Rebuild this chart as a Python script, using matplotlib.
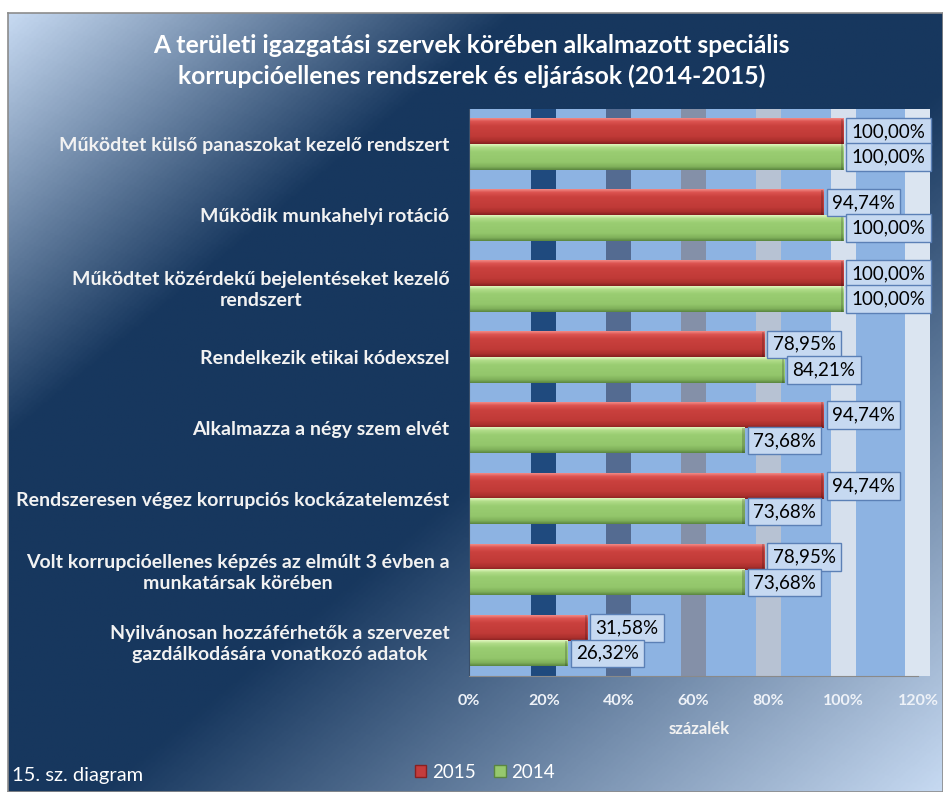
import numpy as np
import matplotlib
matplotlib.use('Agg')
import matplotlib.pyplot as plt
from matplotlib.colors import LinearSegmentedColormap
from matplotlib.patches import Patch, Rectangle

plt.rcParams['font.family'] = ['Lato', 'DejaVu Sans']

# data
categories = [
    'Működtet külső panaszokat kezelő rendszert',
    'Működik munkahelyi rotáció',
    'Működtet közérdekű bejelentéseket kezelő\nrendszert',
    'Rendelkezik etikai kódexszel',
    'Alkalmazza a négy szem elvét',
    'Rendszeresen végez korrupciós kockázatelemzést',
    'Volt korrupcióellenes képzés az elmúlt 3 évben a\nmunkatársak körében',
    'Nyilvánosan hozzáférhetők a szervezet\ngazdálkodására vonatkozó adatok',
]
vals_2015 = [100.00, 94.74, 100.00, 78.95, 94.74, 94.74, 78.95, 31.58]
vals_2014 = [100.00, 100.00, 100.00, 84.21, 73.68, 73.68, 73.68, 26.32]
xticks = [0, 20, 40, 60, 80, 100, 120]
tick_labels = ['0%', '20%', '40%', '60%', '80%', '100%', '120%']
band_colors = ['#1f4a7e', '#546b91', '#8490a8', '#b7c2d3', '#d6e0ed', '#dbe5f1']

W, H = 943, 792
fig = plt.figure(figsize=(W / 100, H / 100), dpi=100)
fig.patch.set_facecolor('white')

# background gradient (diagonal, light -> navy -> light)
bg = fig.add_axes([8 / W, 0, 1 - 8 / W, 1 - 13 / H], zorder=0)
gx, gy = np.meshgrid(np.linspace(0, 1, 400), np.linspace(0, 1, 340))
t = (gx + gy) / 2
bg_cmap = LinearSegmentedColormap.from_list(
    'bg', [(0, '#c6d9f1'), (0.27, '#17375e'), (0.55, '#17375e'), (1, '#c6d9f1')])
bg.imshow(t, cmap=bg_cmap, aspect='auto', extent=[0, 1, 1, 0], vmin=0, vmax=1)
bg.set_xlim(0, 1)
bg.set_ylim(1, 0)
bg.set_xticks([])
bg.set_yticks([])
for s in bg.spines.values():
    s.set_color('#8c8c8c')
    s.set_linewidth(1.2)

# plot area
x0, x1 = 469, 930
y_top, y_bot = 109, 676
ax = fig.add_axes([x0 / W, (H - y_bot) / H, (x1 - x0) / W, (y_bot - y_top) / H], zorder=1)
ax.set_facecolor('#8db3e2')
xmax = 120 * (x1 - x0) / (918 - x0)
ax.set_xlim(0, xmax)
n = len(categories)
ax.set_ylim(n - 0.5, -0.5)

bw = 6.7
for g, c in zip(xticks[1:], band_colors):
    ax.axvspan(g - bw / 2, g + bw / 2, color=c, lw=0, zorder=0.5)

y = np.arange(n)
h = 0.36
red_cmap = LinearSegmentedColormap.from_list(
    'r', [(0, '#f28a86'), (0.12, '#dc5350'), (0.3, '#ca413e'), (0.7, '#c03a37'),
          (0.88, '#ab302d'), (1, '#842020')])
green_cmap = LinearSegmentedColormap.from_list(
    'g', [(0, '#e2f7bf'), (0.12, '#b0dc88'), (0.3, '#9acd72'), (0.7, '#93c66b'),
          (0.88, '#7fb05a'), (1, '#5a8640')])

bars15 = ax.barh(y - h / 2, vals_2015, height=h, color='#c43c3c', zorder=2)
bars14 = ax.barh(y + h / 2, vals_2014, height=h, color='#96c86e', zorder=2)

grad = np.linspace(0, 1, 64).reshape(-1, 1)
for bars, cm in ((bars15, red_cmap), (bars14, green_cmap)):
    for b in bars:
        bx, by, bwid, bht = b.get_x(), b.get_y(), b.get_width(), b.get_height()
        ax.imshow(grad, cmap=cm, aspect='auto', zorder=2.5,
                  extent=[bx, bx + bwid, by + bht, by], interpolation='bilinear')
        ax.add_patch(Rectangle((bx + bwid - 0.6, by), 0.6, bht, color='black',
                               alpha=0.18, lw=0, zorder=2.6))
ax.set_xlim(0, xmax)
ax.set_ylim(n - 0.5, -0.5)

# data labels
def fmt(v):
    return f'{v:.2f}'.replace('.', ',') + '%'

for bars, vals in ((bars15, vals_2015), (bars14, vals_2014)):
    for b, v in zip(bars, vals):
        ax.annotate(fmt(v), xy=(b.get_width(), b.get_y() + b.get_height() / 2),
                    xytext=(6, 0), textcoords='offset points', ha='left', va='center',
                    fontsize=13.5, color='black', zorder=5, annotation_clip=False,
                    bbox=dict(boxstyle='square,pad=0.28', fc='#c6d9f1',
                              ec='#5b80b6', lw=1))

ax.set_xticks(xticks)
ax.set_xticklabels(tick_labels, color='#eef2f8', fontsize=11.5, fontweight='bold')
ax.set_yticks(y)
ax.set_yticklabels(categories, color='#f2f2f2', fontsize=14, fontweight='bold')
for lab in ax.get_yticklabels():
    lab.set_multialignment('center')
    lab.set_linespacing(1.3)
ax.tick_params(axis='x', length=0, pad=13)
ax.tick_params(axis='y', length=0, pad=14)
ax.set_xlabel('százalék', color='#f2f2f2', fontsize=12, fontweight='bold', labelpad=9)
for s in ['top', 'right']:
    ax.spines[s].set_visible(False)
ax.spines['bottom'].set_color('#8a8a8a')
ax.spines['bottom'].set_bounds(0, 120)
ax.spines['left'].set_color('#3a4f6a')

fig.text(0.5, 1 - 61 / H, 'A területi igazgatási szervek körében alkalmazott speciális\n'
         'korrupcióellenes rendszerek és eljárások (2014-2015)',
         ha='center', va='center', color='white', fontsize=17.8, fontweight='bold',
         linespacing=1.35)

fig.text(12 / W, 1 - 776 / H, '15. sz. diagram', ha='left', va='center',
         color='white', fontsize=14.5)

handles = [Patch(fc='#c43c3c', ec='#8a2020', label='2015'),
           Patch(fc='#96c86e', ec='#5a8640', label='2014')]
fig.legend(handles=handles, loc='center', bbox_to_anchor=(485 / W, 1 - 772 / H),
           ncol=2, frameon=False, fontsize=13.5, labelcolor='white',
           handlelength=0.6, handleheight=0.6, handletextpad=0.3, columnspacing=1.0)

fig.savefig('out.png', dpi=100)
